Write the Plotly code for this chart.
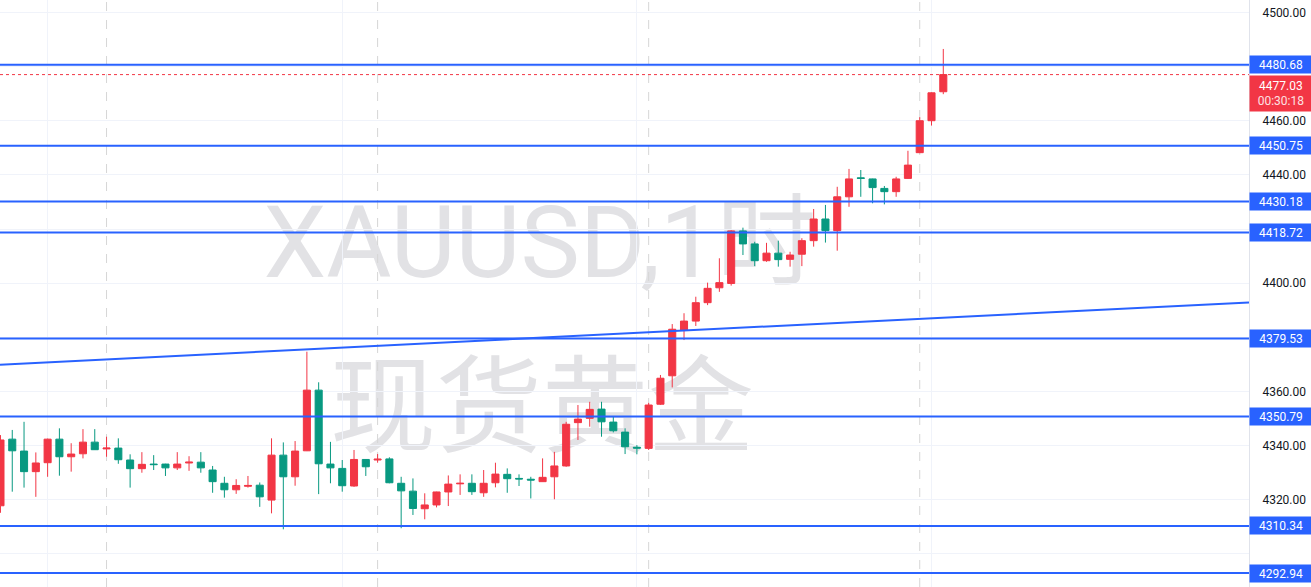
import plotly.graph_objects as go

# 1h XAUUSD candles, oldest first (x is the bar index)
opens = [4317.8, 4342.4, 4338.0, 4330.4, 4333.7, 4342.4, 4335.9, 4337.0, 4341.3, 4338.8,
         4339.1, 4334.7, 4331.5, 4333.2, 4333.2, 4331.8, 4333.6, 4333.9, 4331.0, 4326.1,
         4323.7, 4325.0, 4325.4, 4319.9, 4336.5, 4328.5, 4338.1, 4360.5, 4333.2, 4331.6,
         4325.1, 4334.9, 4334.7, 4335.1, 4326.1, 4323.2, 4316.7, 4318.1, 4322.9, 4325.9,
         4326.1, 4322.6, 4326.3, 4329.4, 4327.9, 4327.6, 4326.7, 4328.5, 4332.5, 4348.5,
         4350.1, 4353.5, 4348.7, 4345.0, 4339.4, 4339.0, 4355.3, 4365.8, 4382.7, 4386.0,
         4392.8, 4398.3, 4399.9, 4419.3, 4414.5, 4408.3, 4411.1, 4408.8, 4410.7, 4415.7,
         4423.7, 4419.4, 4431.9, 4438.9, 4438.5, 4435.0, 4433.8, 4438.7, 4448.2, 4460.0,
         4470.7]
highs = [4343.9, 4345.8, 4348.8, 4337.5, 4342.6, 4346.4, 4340.9, 4346.1, 4346.1, 4343.3,
         4342.7, 4336.8, 4337.6, 4336.5, 4333.3, 4337.6, 4336.1, 4337.6, 4332.5, 4328.5,
         4327.6, 4328.8, 4326.4, 4342.7, 4341.2, 4341.7, 4374.7, 4363.4, 4341.4, 4334.7,
         4338.4, 4335.0, 4336.9, 4335.7, 4328.5, 4327.9, 4322.4, 4323.0, 4329.0, 4329.4,
         4329.4, 4331.0, 4333.7, 4331.6, 4329.4, 4328.5, 4335.3, 4337.7, 4348.8, 4355.0,
         4356.2, 4356.2, 4350.7, 4346.4, 4340.2, 4355.8, 4366.1, 4384.9, 4388.9, 4395.0,
         4400.2, 4409.2, 4419.6, 4420.5, 4415.3, 4414.9, 4415.7, 4411.6, 4416.6, 4427.4,
         4428.9, 4435.6, 4442.2, 4441.8, 4438.6, 4435.9, 4439.3, 4448.9, 4461.3, 4470.5,
         4486.5]
lows = [4315.2, 4323.0, 4324.5, 4321.1, 4328.5, 4328.9, 4330.4, 4335.3, 4338.4, 4335.9,
        4333.3, 4324.5, 4330.0, 4331.0, 4328.8, 4331.0, 4330.7, 4330.0, 4322.6, 4320.8,
        4322.2, 4324.5, 4317.4, 4315.0, 4309.1, 4325.2, 4338.0, 4322.1, 4326.1, 4323.0,
        4324.8, 4328.8, 4333.7, 4326.1, 4309.5, 4314.4, 4312.8, 4317.2, 4317.7, 4321.8,
        4321.8, 4321.1, 4324.6, 4322.6, 4325.1, 4320.5, 4326.6, 4320.2, 4332.2, 4342.1,
        4347.0, 4343.3, 4344.9, 4336.9, 4336.8, 4338.4, 4355.0, 4361.5, 4379.0, 4384.2,
        4391.9, 4396.8, 4399.1, 4410.4, 4406.3, 4407.9, 4406.1, 4406.1, 4406.3, 4413.5,
        4415.0, 4412.0, 4428.2, 4431.9, 4429.5, 4429.1, 4431.9, 4438.6, 4448.0, 4458.2,
        4469.8]
closes = [4342.1, 4338.1, 4330.4, 4333.6, 4342.4, 4335.9, 4336.9, 4341.3, 4338.5, 4339.1,
          4334.8, 4331.5, 4333.1, 4333.0, 4331.8, 4333.2, 4333.9, 4331.8, 4326.7, 4323.7,
          4325.3, 4325.3, 4321.1, 4336.5, 4328.5, 4338.0, 4360.5, 4333.3, 4331.8, 4325.2,
          4334.9, 4332.2, 4335.0, 4326.3, 4323.3, 4316.8, 4318.1, 4322.9, 4325.8, 4326.1,
          4323.0, 4326.1, 4329.5, 4327.8, 4327.7, 4327.3, 4328.3, 4332.5, 4347.9, 4349.8,
          4353.4, 4348.8, 4345.5, 4339.6, 4339.1, 4355.0, 4364.9, 4383.0, 4386.0, 4392.8,
          4398.1, 4400.2, 4419.3, 4414.5, 4408.3, 4411.1, 4408.7, 4410.4, 4415.7, 4423.7,
          4419.4, 4431.9, 4438.5, 4438.7, 4435.3, 4433.8, 4438.5, 4443.6, 4460.0, 4470.3,
          4477.03]
bars = list(range(len(closes)))

# horizontal levels drawn on the chart
levels = [4480.68, 4450.75, 4430.18, 4418.72, 4379.53, 4350.79, 4310.34, 4292.94]
last_price = 4477.03
countdown = '00:30:18'

# trend line, two anchor points (bar index, price)
trend_x = [-0.04, 105.94]
trend_y = [4369.9, 4392.9]

# session breaks and time grid (bar index)
session_breaks = [9, 32, 55, 78]
time_grid = [4, 29, 54, 79]

price_ticks = [4300 + 20 * i for i in range(11)]
hidden_ticks = [4300, 4380, 4420, 4480]

BLUE = '#2962FF'
RED = '#F23645'
GREEN = '#089981'

fig = go.Figure()

fig.add_trace(go.Candlestick(
    x=bars, open=opens, high=highs, low=lows, close=closes,
    increasing={'line': {'color': RED, 'width': 1}, 'fillcolor': RED},
    decreasing={'line': {'color': GREEN, 'width': 1}, 'fillcolor': GREEN},
    whiskerwidth=0,
    showlegend=False,
))

shapes = []

# watermark, under the candles
for txt, cx, cy, size in [('XAUUSD,1时', 0.4323, 0.598, 100),
                          ('现货黄金', 0.434, 0.3186, 106)]:
    shapes.append(dict(
        type='rect', xref='paper', yref='paper',
        x0=cx - 0.3, x1=cx + 0.3, y0=cy - 0.1, y1=cy + 0.1,
        line={'width': 0}, fillcolor='rgba(0,0,0,0)', layer='below',
        label={'text': txt, 'textposition': 'middle center',
               'font': {'size': size, 'color': '#e2e2e5',
                        'family': 'Roboto, Noto Sans CJK SC'}},
    ))

for b in session_breaks:
    shapes.append(dict(type='line', xref='x', yref='paper', x0=b, x1=b, y0=0, y1=1,
                       line={'color': '#d6d6d6', 'width': 1, 'dash': 'dash'}, layer='below'))

shapes.append(dict(type='line', xref='paper', yref='y', x0=0, x1=1,
                   y0=last_price, y1=last_price,
                   line={'color': RED, 'width': 1, 'dash': 'dot'}))

for lv in levels:
    shapes.append(dict(type='line', xref='paper', yref='y', x0=0, x1=1, y0=lv, y1=lv,
                       line={'color': BLUE, 'width': 2}))

shapes.append(dict(type='line', xref='x', yref='y',
                   x0=trend_x[0], x1=trend_x[1], y0=trend_y[0], y1=trend_y[1],
                   line={'color': BLUE, 'width': 2}))

annotations = []
for lv in levels:
    annotations.append(dict(
        xref='paper', yref='y', x=1, y=lv, xanchor='left', yanchor='middle',
        text=f'{lv:.2f}', showarrow=False, bgcolor=BLUE,
        width=62, height=17, borderpad=0,
        font={'color': 'white', 'size': 12, 'family': 'Roboto'},
    ))
annotations.append(dict(
    xref='paper', yref='y', x=1, y=last_price, xanchor='left', yanchor='top',
    text=f'{last_price:.2f}<br><span style="color:#fde0e2">{countdown}</span>',
    showarrow=False, bgcolor=RED, width=62, height=35, borderpad=0,
    font={'color': 'white', 'size': 12, 'family': 'Roboto'},
))

fig.update_layout(
    width=1311, height=587,
    margin={'l': 0, 'r': 62, 't': 0, 'b': 0, 'pad': 0},
    paper_bgcolor='white', plot_bgcolor='white',
    boxgap=0.4, boxgroupgap=0,
    shapes=shapes, annotations=annotations,
    hovermode=False,
)

fig.update_xaxes(
    range=[-0.04, 105.94], rangeslider={'visible': False},
    showticklabels=False, tickvals=time_grid,
    showgrid=True, gridcolor='#f0f3fa', zeroline=False,
)

fig.update_yaxes(
    side='right', range=[4287.8, 4504.58],
    tickvals=price_ticks,
    ticktext=['' if t in hidden_ticks else f'{t:.2f}' for t in price_ticks],
    ticklabelstandoff=10,
    tickfont={'size': 12, 'color': '#131722', 'family': 'Roboto'},
    showgrid=True, gridcolor='#f0f3fa', zeroline=False,
    showline=True, linecolor='#e0e3eb', linewidth=1,
)

# drop the default page margin so the figure sits at the window corner
fig.write_html('out.html', config={'displayModeBar': False},
               post_script="document.body.style.margin='0';")
